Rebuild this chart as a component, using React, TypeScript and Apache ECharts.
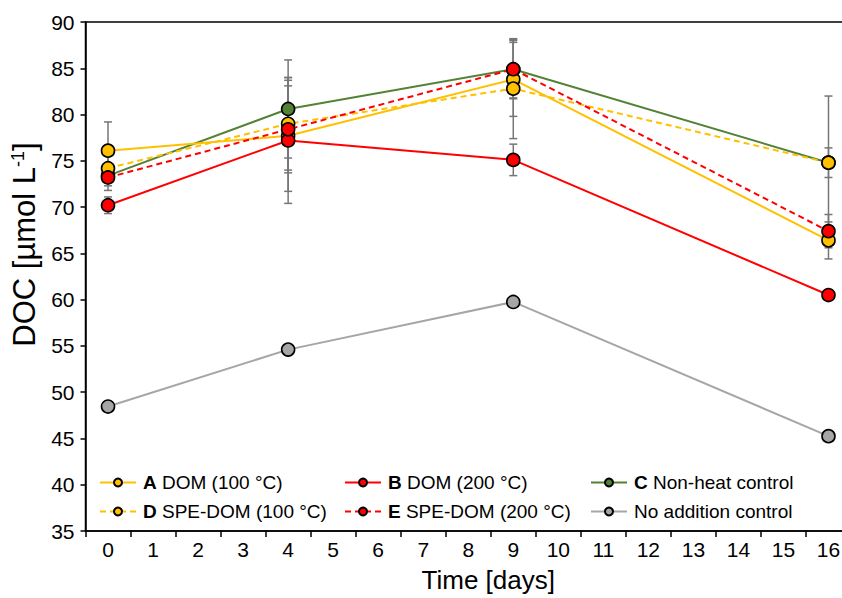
import React, { useEffect, useRef } from "react";
import * as echarts from "echarts";

// ---- data ----
const dayLabels = ["0", "1", "2", "3", "4", "5", "6", "7", "8", "9", "10", "11", "12", "13", "14", "15", "16"];
const sampleDays = [0, 4, 9, 16];

const nameA = "A DOM (100 °C)";
const nameB = "B DOM (200 °C)";
const nameC = "C Non-heat control";
const nameD = "D SPE-DOM (100 °C)";
const nameE = "E SPE-DOM (200 °C)";
const nameN = "No addition control";

const valuesA = [76.1, 77.7, 83.8, 66.4];
const errorsA = [3.1, 6.0, 4.0, 2.0];
const valuesB = [70.2, 77.2, 75.1, 60.5];
const errorsB = [0.9, 6.8, 1.7, 0.5];
const valuesC = [73.4, 80.6, 84.9, 74.8];
const errorsC = [1.1, 5.3, 3.1, 7.2];
const valuesD = [74.2, 79.0, 82.8, 74.8];
const errorsD = [1.5, 5.0, 5.4, 1.6];
const valuesE = [73.2, 78.4, 84.9, 67.4];
const errorsE = [1.4, 4.7, 3.2, 1.8];
const valuesN = [48.45, 54.6, 59.75, 45.25];

const yTicks = { min: 35, max: 90, step: 5 };

const FONT = "'Liberation Sans', Arial, sans-serif";
const YELLOW = "#FFC000";
const RED = "#FF0000";
const GREEN = "#548235";
const GREY_LINE = "#A6A6A6";
const GREY_MARK = "#A6A6A6";

export default function App() {
  const ref = useRef<HTMLDivElement>(null);

  useEffect(() => {
    if (!ref.current) return;
    const chart = echarts.init(ref.current, undefined, { renderer: "svg" });

    const specs = [
      { name: nameC, values: valuesC, errors: errorsC, color: GREEN, fill: GREEN, dash: "solid" },
      { name: nameA, values: valuesA, errors: errorsA, color: YELLOW, fill: YELLOW, dash: "solid" },
      { name: nameD, values: valuesD, errors: errorsD, color: YELLOW, fill: YELLOW, dash: [6, 4] },
      { name: nameB, values: valuesB, errors: errorsB, color: RED, fill: RED, dash: "solid" },
      { name: nameE, values: valuesE, errors: errorsE, color: RED, fill: RED, dash: [6, 4] },
      { name: nameN, values: valuesN, errors: null as number[] | null, color: GREY_LINE, fill: GREY_MARK, dash: "solid" },
    ];

    const errData: number[][] = [];
    specs.forEach((s) => {
      if (!s.errors) return;
      s.values.forEach((v, i) => {
        errData.push([sampleDays[i], v - s.errors![i], v + s.errors![i]]);
      });
    });

    const lineSeries = specs.map((s, k) => ({
      type: "line",
      name: s.name,
      data: s.values.map((v, i) => [String(sampleDays[i]), v]),
      symbol: "circle",
      symbolSize: 13,
      z: 3 + k,
      lineStyle: { color: s.color, width: 2, type: s.dash },
      itemStyle: { color: s.fill, borderColor: "#000", borderWidth: 1.6 },
      emphasis: { disabled: true },
    }));

    const errorSeries = {
      type: "custom",
      name: "errors",
      z: 2,
      data: errData,
      encode: { x: 0, y: [1, 2] },
      renderItem: (params: any, api: any) => {
        const x = api.value(0);
        const lo = api.coord([x, api.value(1)]);
        const hi = api.coord([x, api.value(2)]);
        const cap = 4;
        const style = { stroke: "#767676", lineWidth: 1.5 };
        return {
          type: "group",
          children: [
            { type: "line", shape: { x1: lo[0], y1: lo[1], x2: hi[0], y2: hi[1] }, style },
            { type: "line", shape: { x1: lo[0] - cap, y1: lo[1], x2: lo[0] + cap, y2: lo[1] }, style },
            { type: "line", shape: { x1: hi[0] - cap, y1: hi[1], x2: hi[0] + cap, y2: hi[1] }, style },
          ],
        };
      },
    };

    const legendPos = [
      { name: nameA, left: 99, top: 473 },
      { name: nameB, left: 344, top: 473 },
      { name: nameC, left: 590, top: 473 },
      { name: nameD, left: 99, top: 502 },
      { name: nameE, left: 344, top: 502 },
      { name: nameN, left: 590, top: 502 },
    ];

    const legends = legendPos.map((p) => ({
      data: [p.name],
      left: p.left,
      top: p.top,
      padding: 0,
      itemWidth: 36,
      itemHeight: 10,
      itemGap: 0,
      selectedMode: false,
      formatter: (name: string) => {
        const m = name.match(/^([A-E]) (.*)$/);
        return m ? `{b|${m[1]}} ${m[2]}` : name;
      },
      textStyle: {
        fontFamily: FONT,
        fontSize: 19,
        color: "#000",
        padding: [0, 0, 0, 2],
        rich: { b: { fontFamily: FONT, fontSize: 19, fontWeight: "bold", color: "#000" } },
      },
    }));

    chart.setOption({
      animation: false,
      backgroundColor: "#fff",
      grid: {
        left: 85.5,
        right: 0,
        top: 22,
        bottom: 67,
        show: true,
        borderColor: "#000",
        borderWidth: 1.5,
        containLabel: false,
      },
      legend: legends,
      xAxis: {
        type: "category",
        data: dayLabels,
        boundaryGap: true,
        name: "Time [days]",
        nameLocation: "middle",
        nameGap: 36,
        nameTextStyle: { fontFamily: FONT, fontSize: 26, color: "#000", padding: [0, 0, 0, 40] },
        axisLine: { lineStyle: { color: "#000", width: 1.5 } },
        axisTick: { show: true, inside: false, length: 6, lineStyle: { color: "#000", width: 1.5 } },
        axisLabel: { fontFamily: FONT, fontSize: 21, color: "#000", margin: 8 },
        splitLine: { show: false },
      },
      yAxis: {
        type: "value",
        min: yTicks.min,
        max: yTicks.max,
        interval: yTicks.step,
        name: "{n|DOC [µmol L}{s|-1}{n|]}",
        nameLocation: "middle",
        nameGap: 46,
        nameTextStyle: {
          fontFamily: FONT,
          fontSize: 31,
          color: "#000",
          padding: [0, 0, 0, 64],
          rich: {
            n: { fontFamily: FONT, fontSize: 31, color: "#000" },
            s: { fontFamily: FONT, fontSize: 18, color: "#000", verticalAlign: "top", padding: [0, 0, 12, 0] },
          },
        },
        axisLine: { show: true, lineStyle: { color: "#000", width: 1.5 } },
        axisTick: { show: true, inside: false, length: 5, lineStyle: { color: "#000", width: 1.5 } },
        axisLabel: { fontFamily: FONT, fontSize: 21, color: "#000", margin: 11 },
        splitLine: { show: false },
      },
      series: [errorSeries, ...lineSeries],
    });

    return () => chart.dispose();
  }, []);

  return (
    <div style={{ position: "absolute", left: 0, top: 0, width: 842, height: 598, overflow: "hidden", background: "#fff" }}>
      <div ref={ref} style={{ width: 851, height: 598 }} />
    </div>
  );
}
